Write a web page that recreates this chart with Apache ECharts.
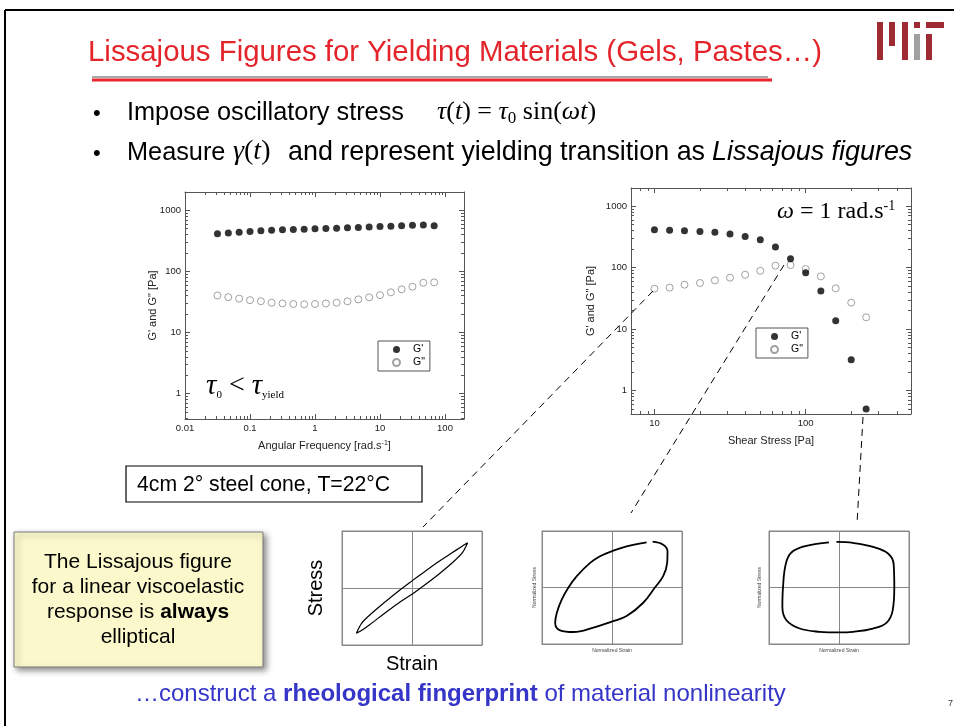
<!DOCTYPE html>
<html><head><meta charset="utf-8">
<script src="https://cdn.jsdelivr.net/npm/echarts@6/dist/echarts.min.js"></script>
<style>html,body{margin:0;padding:0;background:#fff}#c{width:954px;height:726px}</style>
</head><body><div id="c"></div>
<script>
// ---- Frequency sweep (left plot) ----
const freq = [0.0316,0.0464,0.0681,0.1,0.147,0.215,0.316,0.464,0.681,1,1.47,2.15,3.16,4.64,6.81,10,14.7,21.5,31.6,46.4,68.1];
const freqGp = [409,420,434,446,457,467,474,481,487,493,500,506,512,519,530,538,545,552,563,570,552];
const freqGpp = [40,37.5,35.5,33.5,32.2,30.4,29.6,29,28.6,29,29.6,30.4,32,34.5,37.2,40.5,45,50.4,55.6,64.5,65.5];
// ---- Stress sweep (right plot) ----
const stress = [10,12.6,15.8,20,25.1,31.6,39.8,50.1,63.1,79.4,100,126,158,200,251];
const stressGp = [410,400,395,385,371,349,319,282,214,138,82,41.3,13.6,3.15,0.5];
const stressGpp = [45,46.8,52.3,55.7,61.5,68,76,88,106.6,109,94,71.4,45.6,26.7,15.4];
// ---- minor tick values (log axes) ----
const leftMinorX = [0.02,0.03,0.04,0.05,0.06,0.07,0.08,0.09,0.2,0.3,0.4,0.5,0.6,0.7,0.8,0.9,2,3,4,5,6,7,8,9,20,30,40,50,60,70,80,90];
const leftMinorY = [0.4,0.5,0.6,0.7,0.8,0.9,2,3,4,5,6,7,8,9,20,30,40,50,60,70,80,90,200,300,400,500,600,700,800,900];
const rightMinorX = [8,9,20,30,40,50,60,70,80,90,200,300,400];
const rightMinorY = [0.5,0.6,0.7,0.8,0.9,2,3,4,5,6,7,8,9,20,30,40,50,60,70,80,90,200,300,400,500,600,700,800,900];
// ---- Lissajous loops (normalized strain / stress) ----
const liss1Strain = [0.795,0.7,0.55,0.35,0.15,0,-0.2,-0.4,-0.6,-0.72,-0.795,-0.74,-0.6,-0.4,-0.2,0,0.2,0.4,0.6,0.72,0.795];
const liss1Stress = [0.795,0.72,0.6,0.44,0.26,0.125,-0.06,-0.26,-0.47,-0.62,-0.795,-0.76,-0.64,-0.45,-0.27,-0.11,0.07,0.26,0.47,0.62,0.795];
const liss2Strain = [0.58,0.731,0.793,0.788,0.731,0.613,0.446,0.209,-0.005,-0.266,-0.551,-0.741,-0.812,-0.788,-0.717,-0.622,-0.503,-0.313,-0.171,-0.005,0.209,0.494];
const liss2Stress = [0.811,0.758,0.64,0.435,0.2,0,-0.27,-0.506,-0.605,-0.711,-0.788,-0.758,-0.623,-0.447,-0.212,0,0.2,0.435,0.553,0.64,0.729,0.8];
const liss3Strain = [-0.037,0.2,0.486,0.7,0.781,0.79,0.767,0.677,0.486,0.2,0,-0.276,-0.561,-0.751,-0.809,-0.8,-0.761,-0.68,-0.466,-0.143];
const liss3Stress = [0.807,0.789,0.719,0.602,0.414,0,-0.404,-0.626,-0.726,-0.784,-0.796,-0.784,-0.726,-0.579,-0.346,0,0.414,0.619,0.737,0.8];
const legendNames = ["G'", 'G"'];

const SANS = '"Liberation Sans", Arial, Helvetica, sans-serif';
const SERIF = '"Liberation Serif", "Times New Roman", serif';
const AX = '#555';
const fmt = v => String(+(+v).toPrecision(4));

function logAxis(grid, pos, min, max, labels, name, gap) {
  return {
    type: 'log', logBase: 10, gridIndex: grid, position: pos, min, max,
    axisLine: {show: true, lineStyle: {color: AX, width: 1}},
    axisTick: {show: true, inside: true, length: 5, lineStyle: {color: AX}},
    axisLabel: {show: labels, fontSize: 9.5, fontFamily: SANS, color: '#222', margin: 4,
      showMinLabel: pos === 'bottom' && min === 0.01, showMaxLabel: false, formatter: fmt},
    splitLine: {show: false}, minorTick: {show: false},
    name: labels ? name : '', nameLocation: 'middle', nameGap: gap, nameMoveOverlap: false,
    nameTextStyle: {fontSize: 11, fontFamily: SANS, color: '#222', rich: {sup: {fontSize: 7, verticalAlign: 'top', fontFamily: SANS, color: '#222'}}}
  };
}
function lissAxis(grid, dir, name, size, gap) {
  return {
    type: 'value', gridIndex: grid, min: -1, max: 1, interval: 1,
    axisLine: {show: true, onZero: false, lineStyle: {color: '#888'}},
    axisTick: {show: false}, axisLabel: {show: false},
    splitLine: {show: true, lineStyle: {color: '#888', width: 1}},
    name, nameLocation: 'middle', nameGap: gap, nameMoveOverlap: false,
    nameTextStyle: {fontSize: size, fontFamily: SANS, color: size > 10 ? '#000' : '#444'}
  };
}
function minorTicks(xi, yi, xs, ys, xRef, yRef) {
  const data = xs.map(v => [v, yRef, 0]).concat(ys.map(v => [xRef, v, 1]));
  return {
    type: 'custom', xAxisIndex: xi, yAxisIndex: yi, silent: true, clip: false, z: 1, data,
    renderItem(params, api) {
      const cs = params.coordSys;
      const p = api.coord([api.value(0), api.value(1)]);
      const st = {stroke: AX, lineWidth: 1};
      if (api.value(2) === 0) {
        const x = Math.round(p[0]) + 0.5;
        return {type: 'group', children: [
          {type: 'line', shape: {x1: x, y1: cs.y + cs.height, x2: x, y2: cs.y + cs.height - 3}, style: st},
          {type: 'line', shape: {x1: x, y1: cs.y, x2: x, y2: cs.y + 3}, style: st}]};
      }
      const y = Math.round(p[1]) + 0.5;
      return {type: 'group', children: [
        {type: 'line', shape: {x1: cs.x, y1: y, x2: cs.x + 3, y2: y}, style: st},
        {type: 'line', shape: {x1: cs.x + cs.width, y1: y, x2: cs.x + cs.width - 3, y2: y}, style: st}]};
    }
  };
}
const pairs = (xs, ys) => xs.map((x, i) => [x, ys[i]]);
const gpStyle = {color: '#000'};
const gppStyle = {color: '#fff', borderColor: '#8a8a8a', borderWidth: 1};

// ---- slide decorations ----
const G = [];
function txt(x, y, text, o) {
  G.push({type: 'text', x, y, silent: true, z: 10,
    style: Object.assign({text, fontFamily: SANS, fontSize: 25, fill: '#000', verticalAlign: 'middle', align: 'left'}, o || {})});
}
function line(x1, y1, x2, y2, st) { G.push({type: 'line', silent: true, z: 10, shape: {x1, y1, x2, y2}, style: st}); }
function rect(x, y, w, h, st) { G.push({type: 'rect', silent: true, z: 5, shape: {x, y, width: w, height: h}, style: st}); }

line(5, 10, 954, 10, {stroke: '#000', lineWidth: 2});
line(5, 10, 5, 726, {stroke: '#000', lineWidth: 2});
// MIT logo
const MITR = '#9e2b33';
rect(877, 22, 6, 38, {fill: MITR}); rect(889, 22, 6, 24, {fill: MITR}); rect(902, 22, 6, 38, {fill: MITR});
rect(914, 22, 6, 6, {fill: MITR}); rect(914, 34, 6, 26, {fill: '#a0a0a0'});
rect(926, 22, 18, 6, {fill: MITR}); rect(926, 34, 6, 26, {fill: MITR});
// title
txt(88, 53, 'Lissajous Figures for Yielding Materials (Gels, Pastes…)', {fontSize: 29.4, fill: '#e3242b'});
line(92, 77, 768, 77, {stroke: '#a8a8a8', lineWidth: 2});
line(92, 80, 772, 80, {stroke: '#e8262d', lineWidth: 3});
// bullets
const mi = {fontFamily: SERIF, fontStyle: 'italic', fontSize: 26, lineHeight: 30, verticalAlign: 'middle'};
const mr = {fontFamily: SERIF, fontSize: 26, lineHeight: 30, verticalAlign: 'middle'};
const mi2 = {fontFamily: SERIF, fontStyle: 'italic', fontSize: 28, lineHeight: 30, verticalAlign: 'middle'};
const mr2 = {fontFamily: SERIF, fontSize: 28, lineHeight: 30, verticalAlign: 'middle'};
const msub = {fontFamily: SERIF, fontSize: 17, lineHeight: 17, verticalAlign: 'bottom'};
txt(93, 114, '•', {fontSize: 22});
txt(127, 113, 'Impose oscillatory stress', {fontSize: 25.3});
txt(437, 112, '{i|τ}{r|(}{i|t}{r|) = }{i|τ}{sub|0}{r| sin(}{i|ωt}{r|)}', {rich: {i: mi, r: mr, sub: msub}});
txt(93, 154, '•', {fontSize: 22});
txt(127, 153, 'Measure', {fontSize: 25.3});
txt(233, 152, '{i|γ}{r|(}{i|t}{r|)}', {rich: {i: mi2, r: mr2}});
txt(288, 153, 'and represent yielding transition as', {fontSize: 26.9});
txt(712, 153, 'Lissajous figures', {fontSize: 26.9, fontStyle: 'italic'});
// annotations inside plots
txt(777, 212, '{i|ω}{r| = 1 rad.s}{sup|-1}', {rich: {
  i: {fontFamily: SERIF, fontStyle: 'italic', fontSize: 24, lineHeight: 26, verticalAlign: 'middle'},
  r: {fontFamily: SERIF, fontSize: 24, lineHeight: 26, verticalAlign: 'middle'},
  sup: {fontFamily: SERIF, fontSize: 14, lineHeight: 26, verticalAlign: 'top'}}});
txt(206, 386, '{t|τ}{s|0}{r| < }{t|τ}{s|yield}', {rich: {
  t: {fontFamily: SERIF, fontStyle: 'italic', fontSize: 29, lineHeight: 30, verticalAlign: 'middle'},
  r: {fontFamily: SERIF, fontSize: 28, lineHeight: 30, verticalAlign: 'middle'},
  s: {fontFamily: SERIF, fontSize: 11, lineHeight: 11, verticalAlign: 'bottom'}}});
// cone box
rect(126, 466, 296, 36, {fill: '#fff', stroke: '#000', lineWidth: 1.2});
txt(137, 485, '4cm 2° steel cone, T=22°C', {fontSize: 21.2});
// yellow note
rect(14, 532, 249, 135, {fill: '#fbf9cc', stroke: '#7a7a7a', lineWidth: 1, shadowBlur: 6, shadowOffsetX: 3, shadowOffsetY: 3, shadowColor: 'rgba(0,0,0,0.45)'});
txt(138, 600, '{n|The Lissajous figure}\n{n|for a linear viscoelastic}\n{n|response is }{b|always}\n{n|elliptical}', {align: 'center', rich: {
  n: {fontFamily: SANS, fontSize: 21, lineHeight: 25},
  b: {fontFamily: SANS, fontSize: 21, lineHeight: 25, fontWeight: 'bold'}}});
// bottom line
txt(135, 694, '{n|…construct a }{b|rheological fingerprint}{n| of material nonlinearity}', {rich: {
  n: {fontFamily: SANS, fontSize: 24, fill: '#3535c8'},
  b: {fontFamily: SANS, fontSize: 24, fill: '#3535c8', fontWeight: 'bold'}}});
txt(948, 704, '7', {fontSize: 9, fill: '#333'});
// dashed connectors
const dash = {stroke: '#000', lineWidth: 1, lineDash: [7, 5]};
line(653, 291, 423, 527, dash);
line(784, 265, 631, 513, dash);
line(863, 417, 857, 524, dash);

const legendBase = {orient: 'vertical', itemWidth: 7, itemHeight: 7, itemGap: 2,
  padding: [3, 5, 3, 14], borderColor: '#555', borderWidth: 1, backgroundColor: '#fff', selectedMode: false,
  textStyle: {fontSize: 10.5, fontFamily: SANS, color: '#000', padding: [0, 0, 0, 8]}};

const option = {
  animation: false,
  backgroundColor: '#fff',
  grid: [
    {left: 185, top: 192, width: 279, height: 227, outerBoundsMode: 'none'},
    {left: 631, top: 188, width: 280, height: 226, outerBoundsMode: 'none'},
    {left: 342, top: 531, width: 140, height: 114, show: true, borderColor: '#888', borderWidth: 1, outerBoundsMode: 'none'},
    {left: 542, top: 531, width: 140, height: 113, show: true, borderColor: '#888', borderWidth: 1, outerBoundsMode: 'none'},
    {left: 769, top: 531, width: 140, height: 113, show: true, borderColor: '#888', borderWidth: 1, outerBoundsMode: 'none'}
  ],
  xAxis: [
    logAxis(0, 'bottom', 0.01, 196, true, 'Angular Frequency [rad.s{sup|-1}]', 21),
    logAxis(0, 'top', 0.01, 196, false),
    logAxis(1, 'bottom', 7, 497, true, 'Shear Stress [Pa]', 21),
    logAxis(1, 'top', 7, 497, false),
    lissAxis(2, 'x', 'Strain', 20, 9),
    lissAxis(3, 'x', 'Normalized Strain', 5, 4),
    lissAxis(4, 'x', 'Normalized Strain', 5, 4)
  ],
  yAxis: [
    logAxis(0, 'left', 0.38, 1975, true, 'G\' and G" [Pa]', 27),
    logAxis(0, 'right', 0.38, 1975, false),
    logAxis(1, 'left', 0.413, 1954, true, 'G\' and G" [Pa]', 35),
    logAxis(1, 'right', 0.413, 1954, false),
    lissAxis(2, 'y', 'Stress', 20, 16),
    lissAxis(3, 'y', 'Normalized Stress', 5, 5),
    lissAxis(4, 'y', 'Normalized Stress', 5, 7)
  ],
  legend: [
    Object.assign({data: legendNames, left: 378, top: 341}, legendBase),
    Object.assign({data: legendNames, left: 756, top: 328}, legendBase)
  ],
  series: [
    {name: legendNames[0], type: 'scatter', xAxisIndex: 0, yAxisIndex: 0, symbol: 'circle', symbolSize: 7, itemStyle: gpStyle, data: pairs(freq, freqGp), z: 3},
    {name: legendNames[1], type: 'scatter', xAxisIndex: 0, yAxisIndex: 0, symbol: 'circle', symbolSize: 7, itemStyle: gppStyle, data: pairs(freq, freqGpp), z: 3},
    minorTicks(0, 0, leftMinorX, leftMinorY, 1, 1),
    {name: legendNames[0], type: 'scatter', xAxisIndex: 2, yAxisIndex: 2, symbol: 'circle', symbolSize: 7, itemStyle: gpStyle, data: pairs(stress, stressGp), z: 3},
    {name: legendNames[1], type: 'scatter', xAxisIndex: 2, yAxisIndex: 2, symbol: 'circle', symbolSize: 7, itemStyle: gppStyle, data: pairs(stress, stressGpp), z: 2},
    minorTicks(2, 2, rightMinorX, rightMinorY, 10, 1),
    {type: 'line', xAxisIndex: 4, yAxisIndex: 4, data: pairs(liss1Strain, liss1Stress), showSymbol: false, smooth: 0.3, lineStyle: {color: '#000', width: 1.2}, silent: true},
    {type: 'line', xAxisIndex: 5, yAxisIndex: 5, data: pairs(liss2Strain, liss2Stress), showSymbol: false, smooth: 0.4, lineStyle: {color: '#000', width: 1.8}, silent: true},
    {type: 'line', xAxisIndex: 6, yAxisIndex: 6, data: pairs(liss3Strain, liss3Stress), showSymbol: false, smooth: 0.4, lineStyle: {color: '#000', width: 1.8}, silent: true}
  ],
  graphic: {elements: G}
};
const chart = echarts.init(document.getElementById('c'), null, {renderer: 'canvas'});
chart.setOption(option);
</script></body></html>
